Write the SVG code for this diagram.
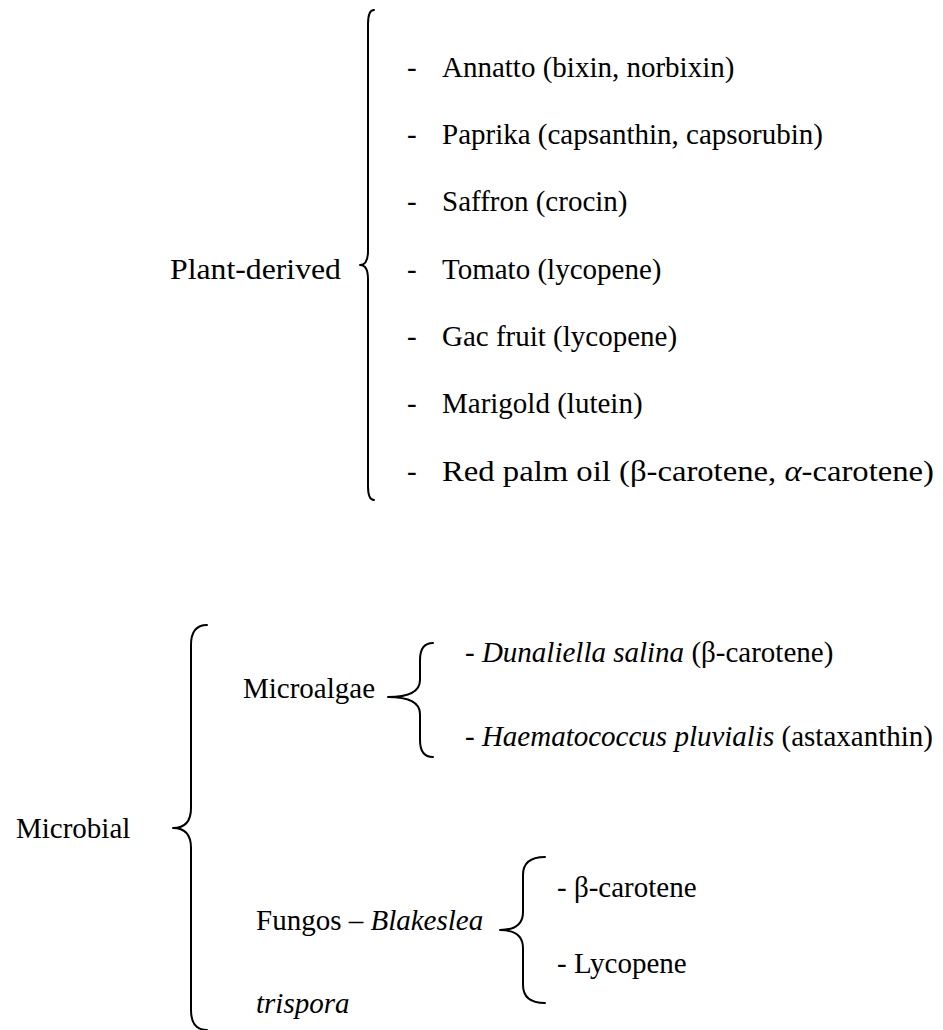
<svg xmlns="http://www.w3.org/2000/svg" width="943" height="1030" viewBox="0 0 943 1030">
<style>
text{font-family:"Liberation Serif","Times New Roman",serif;font-size:29px;fill:#000}
.i{font-style:italic}
.brace{fill:none;stroke:#000;stroke-width:2;stroke-linecap:round;stroke-linejoin:round}
</style>
<rect width="943" height="1030" fill="#fff"/>
<g id="connectors">
<path class="brace" d="M374 10 Q368 10 368 24 L368 251 Q368 265 360 265 Q368 265 368 279 L368 486 Q368 500 374 500"/>
<path class="brace" d="M207 625 Q191 625 191 645 L191 808 Q191 828 173 828 Q191 828 191 848 L191 1010 Q191 1030 207 1030"/>
<path class="brace" d="M433 643 Q420 643 420 660 L420 680 Q420 697 388 697 Q420 697 420 714 L420 740 Q420 757 433 757"/>
<path class="brace" d="M545 857 Q523 857 523 875 L523 912 Q523 930 500 930 Q523 930 523 948 L523 985 Q523 1003 545 1003"/>
</g>
<g id="plant-derived"><text x="170" y="279" textLength="171" lengthAdjust="spacingAndGlyphs">Plant-derived</text></g>
<g id="plant-items">
<text x="407" y="77">-</text><text x="442" y="77">Annatto (bixin, norbixin)</text>
<text x="407" y="144">-</text><text x="442" y="144">Paprika (capsanthin, capsorubin)</text>
<text x="407" y="211">-</text><text x="442" y="211">Saffron (crocin)</text>
<text x="407" y="279">-</text><text x="442" y="279">Tomato (lycopene)</text>
<text x="407" y="346">-</text><text x="442" y="346">Gac fruit (lycopene)</text>
<text x="407" y="413">-</text><text x="442" y="413">Marigold (lutein)</text>
<text x="407" y="481">-</text><text x="442" y="481" textLength="492" lengthAdjust="spacingAndGlyphs">Red palm oil (β-carotene, <tspan class="i">α</tspan>-carotene)</text>
</g>
<g id="microbial"><text x="16" y="838">Microbial</text></g>
<g id="microalgae"><text x="243" y="698">Microalgae</text></g>
<g id="microalgae-items">
<text x="465" y="662">- <tspan class="i">Dunaliella salina</tspan> (β-carotene)</text>
<text x="465" y="746">- <tspan class="i">Haematococcus pluvialis</tspan> (astaxanthin)</text>
</g>
<g id="fungos">
<text x="256" y="930">Fungos – <tspan class="i">Blakeslea</tspan></text>
<text x="256" y="1013" class="i">trispora</text>
</g>
<g id="fungos-items">
<text x="557" y="897">- β-carotene</text>
<text x="557" y="973">- Lycopene</text>
</g>
</svg>
